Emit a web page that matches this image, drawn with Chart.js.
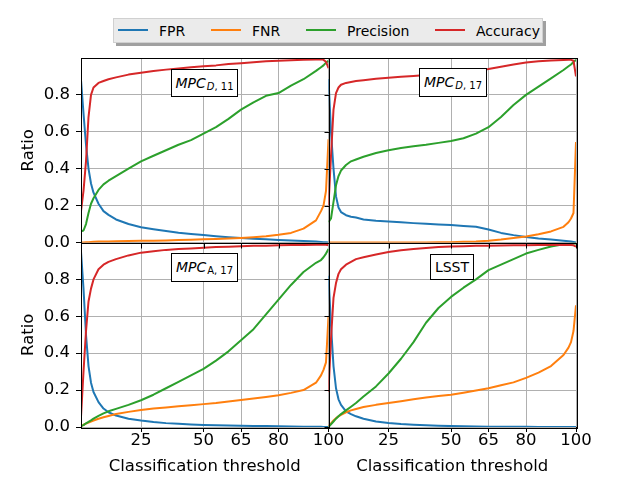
<!DOCTYPE html>
<html>
<head>
<meta charset="utf-8">
<script src="https://cdn.jsdelivr.net/npm/chart.js@4.4.1/dist/chart.umd.min.js"></script>
<style>
  body { margin: 0; background: #fff; font-family: 'DejaVu Sans', sans-serif; }
  #wrap { position: relative; width: 640px; height: 480px; overflow: hidden; }
  #chart { position: absolute; left: 0; top: 0; }
  .legend-shadow { position: absolute; left: 116px; top: 21px; width: 430px; height: 25px; background: #a0a0a0; }
  .legend { position: absolute; left: 113px; top: 18px; width: 430px; height: 25px; box-sizing: border-box;
            background: #ebebeb; border: 1px solid #d0d0d0; }
  .legend .swatch { position: absolute; top: 10px; width: 30px; height: 2px; }
  .legend .lab { position: absolute; top: 4px; font-size: 14px; line-height: 16px; color: #000; white-space: nowrap; }
  .tag { position: absolute; box-sizing: border-box; border: 1px solid #000; background: #fff; color: #000;
         display: flex; align-items: center; justify-content: center; font-size: 14px; white-space: nowrap; }
  .tag .sub { font-size: 10px; vertical-align: -2px; margin-left: 1px; }
</style>
</head>
<body>
<div id="wrap">
  <canvas id="chart" width="640" height="480"></canvas>
  <div class="legend-shadow"></div>
  <div class="legend" id="legend"></div>
  <div class="tag" style="left:171px;top:69px;width:67px;height:28px;"><span><i>MPC</i><span class="sub"><i>D</i>, 11</span></span></div>
  <div class="tag" style="left:419px;top:68px;width:68px;height:29px;"><span><i>MPC</i><span class="sub"><i>D</i>, 17</span></span></div>
  <div class="tag" style="left:171px;top:253px;width:67px;height:29px;"><span><i>MPC</i><span class="sub">A, 17</span></span></div>
  <div class="tag" style="left:430px;top:254px;width:44px;height:26px;">LSST</div>
</div>
<script>
// x values (classification threshold) shared by all four panels
const thresholds = [1, 2, 3, 4, 5, 6, 8, 10, 12, 15, 20, 25, 30, 35, 40, 45, 50, 55, 60, 65, 70, 75, 80, 85, 90, 95, 97, 98, 99, 100];
const xTicks = [25, 50, 65, 80, 100];
const yTicks = [0, 0.2, 0.4, 0.6, 0.8];
const seriesNames = ['FPR', 'FNR', 'Precision', 'Accuracy'];
const seriesColors = ['#1f77b4', '#ff7f0e', '#2ca02c', '#d62728'];

// MPC D,11 (top left)
const fprD11 = [0.88, 0.70, 0.53, 0.40, 0.32, 0.27, 0.21, 0.17, 0.15, 0.125, 0.10, 0.083, 0.072, 0.062, 0.053, 0.046, 0.040, 0.034, 0.029, 0.024, 0.020, 0.017, 0.014, 0.011, 0.008, 0.005, 0.003, 0.002, 0.001, 0.0];
const fnrD11 = [0, 0, 0.001, 0.002, 0.003, 0.004, 0.005, 0.006, 0.006, 0.007, 0.008, 0.009, 0.010, 0.011, 0.013, 0.015, 0.017, 0.019, 0.022, 0.025, 0.029, 0.034, 0.042, 0.052, 0.075, 0.12, 0.17, 0.20, 0.28, 0.56];
const precD11 = [0.06, 0.065, 0.10, 0.16, 0.21, 0.24, 0.285, 0.315, 0.335, 0.36, 0.40, 0.44, 0.47, 0.50, 0.53, 0.555, 0.59, 0.625, 0.67, 0.72, 0.76, 0.795, 0.81, 0.85, 0.885, 0.93, 0.95, 0.96, 0.975, 0.985];
const accD11 = [0.17, 0.28, 0.44, 0.68, 0.80, 0.84, 0.865, 0.875, 0.885, 0.895, 0.91, 0.92, 0.93, 0.937, 0.943, 0.95, 0.955, 0.96, 0.967, 0.972, 0.977, 0.982, 0.985, 0.988, 0.99, 0.992, 0.993, 0.99, 0.98, 0.945];

// MPC D,17 (top right)
const fprD17 = [0.886, 0.60, 0.40, 0.25, 0.19, 0.165, 0.148, 0.14, 0.135, 0.125, 0.118, 0.114, 0.11, 0.105, 0.101, 0.098, 0.095, 0.09, 0.085, 0.07, 0.052, 0.04, 0.03, 0.022, 0.016, 0.01, 0.007, 0.005, 0.003, 0.0];
const fnrD17 = [0, 0, 0, 0, 0, 0, 0, 0, 0, 0, 0, 0, 0, 0, 0, 0.001, 0.002, 0.004, 0.006, 0.01, 0.016, 0.024, 0.033, 0.045, 0.06, 0.085, 0.11, 0.13, 0.16, 0.545];
const precD17 = [0.11, 0.13, 0.22, 0.31, 0.36, 0.39, 0.42, 0.44, 0.45, 0.465, 0.485, 0.50, 0.512, 0.522, 0.53, 0.54, 0.55, 0.565, 0.59, 0.625, 0.68, 0.745, 0.80, 0.845, 0.89, 0.935, 0.955, 0.965, 0.978, 0.99];
const accD17 = [0.2, 0.47, 0.72, 0.81, 0.84, 0.855, 0.865, 0.87, 0.875, 0.88, 0.888, 0.893, 0.898, 0.903, 0.908, 0.912, 0.916, 0.922, 0.93, 0.94, 0.952, 0.965, 0.975, 0.982, 0.986, 0.989, 0.99, 0.99, 0.985, 0.9];

// MPC A,17 (bottom left)
const fprA17 = [0.95, 0.75, 0.50, 0.33, 0.24, 0.19, 0.135, 0.10, 0.08, 0.062, 0.045, 0.035, 0.027, 0.021, 0.017, 0.014, 0.011, 0.009, 0.008, 0.007, 0.006, 0.005, 0.004, 0.003, 0.002, 0.001, 0.001, 0, 0, 0];
const fnrA17 = [0.005, 0.012, 0.018, 0.024, 0.03, 0.035, 0.045, 0.053, 0.06, 0.07, 0.082, 0.092, 0.10, 0.106, 0.112, 0.118, 0.124, 0.13, 0.138, 0.146, 0.155, 0.163, 0.172, 0.185, 0.20, 0.24, 0.28, 0.31, 0.35, 0.6];
const precA17 = [0.005, 0.01, 0.02, 0.028, 0.036, 0.045, 0.06, 0.074, 0.085, 0.098, 0.12, 0.145, 0.175, 0.21, 0.245, 0.28, 0.315, 0.36, 0.41, 0.47, 0.53, 0.61, 0.69, 0.77, 0.84, 0.89, 0.905, 0.92, 0.94, 0.965];
const accA17 = [0.056, 0.30, 0.52, 0.68, 0.75, 0.80, 0.855, 0.88, 0.895, 0.91, 0.93, 0.945, 0.953, 0.96, 0.965, 0.968, 0.972, 0.975, 0.977, 0.98, 0.982, 0.983, 0.985, 0.986, 0.987, 0.988, 0.988, 0.988, 0.988, 0.985];

// LSST (bottom right)
const fprLSST = [0.82, 0.55, 0.33, 0.21, 0.15, 0.12, 0.085, 0.07, 0.058, 0.045, 0.03, 0.022, 0.016, 0.012, 0.009, 0.007, 0.005, 0.004, 0.003, 0.002, 0.002, 0.001, 0.001, 0, 0, 0, 0, 0, 0, 0];
const fnrLSST = [0.005, 0.02, 0.035, 0.048, 0.058, 0.066, 0.08, 0.09, 0.098, 0.108, 0.12, 0.13, 0.14, 0.15, 0.16, 0.168, 0.175, 0.186, 0.198, 0.21, 0.226, 0.242, 0.266, 0.295, 0.33, 0.39, 0.43, 0.46, 0.52, 0.66];
const precLSST = [0, 0.015, 0.03, 0.045, 0.058, 0.07, 0.09, 0.11, 0.13, 0.165, 0.22, 0.29, 0.37, 0.46, 0.565, 0.645, 0.705, 0.755, 0.80, 0.85, 0.88, 0.91, 0.94, 0.96, 0.978, 0.99, 0.992, 0.993, 0.994, 0.995];
const accLSST = [0.19, 0.48, 0.70, 0.78, 0.83, 0.855, 0.88, 0.895, 0.91, 0.92, 0.935, 0.948, 0.958, 0.965, 0.97, 0.975, 0.978, 0.98, 0.982, 0.983, 0.984, 0.985, 0.985, 0.986, 0.986, 0.986, 0.986, 0.986, 0.985, 0.978];

const panels = [
    { x: 'xL', y: 'yT', series: [fprD11, fnrD11, precD11, accD11] },
    { x: 'xR', y: 'yT', series: [fprD17, fnrD17, precD17, accD17] },
    { x: 'xL', y: 'yB', series: [fprA17, fnrA17, precA17, accA17] },
    { x: 'xR', y: 'yB', series: [fprLSST, fnrLSST, precLSST, accLSST] }
];

Chart.defaults.font.family = "'DejaVu Sans', sans-serif";
Chart.defaults.color = '#000';

// legend built from the series arrays
const legendSwatchLeft = [4, 97, 192, 321];
const legendEl = document.getElementById('legend');
seriesNames.forEach((name, i) => {
    const sw = document.createElement('div');
    sw.className = 'swatch';
    sw.style.left = legendSwatchLeft[i] + 'px';
    sw.style.background = seriesColors[i];
    const lab = document.createElement('div');
    lab.className = 'lab';
    lab.style.left = (legendSwatchLeft[i] + 41) + 'px';
    lab.textContent = name;
    legendEl.appendChild(sw);
    legendEl.appendChild(lab);
});

const datasets = [];
panels.forEach(p => {
    p.series.forEach((vals, i) => {
        datasets.push({
            label: seriesNames[i],
            data: thresholds.map((t, k) => ({ x: t, y: vals[k] })),
            xAxisID: p.x,
            yAxisID: p.y,
            borderColor: seriesColors[i],
            backgroundColor: seriesColors[i],
            borderWidth: 2,
            borderJoinStyle: 'round',
            pointRadius: 0,
            tension: 0,
            fill: false,
            order: 3 - i
        });
    });
});

const gridStyle = { color: '#b0b0b0', lineWidth: 1, tickColor: '#000', tickLength: 5, tickWidth: 1 };

function xAxis() {
    return {
        type: 'linear', position: 'bottom', stack: 'cols', min: 1, max: 100,
        afterBuildTicks: s => { s.ticks = xTicks.map(v => ({ value: v })); },
        afterFit: s => { s.height = 53; },
        grid: gridStyle,
        border: { display: false },
        ticks: { autoSkip: false, maxRotation: 0, padding: 0, font: { size: 16.5, lineHeight: 1 }, callback: v => String(v) },
        title: { display: true, text: 'Classification threshold', font: { size: 16.5 }, padding: { top: 0, bottom: 3 } }
    };
}

function yAxis(weight) {
    return {
        type: 'linear', position: 'left', stack: 'rows', weight: weight, min: 0, max: 1,
        afterBuildTicks: s => { s.ticks = yTicks.map(v => ({ value: v })); },
        afterFit: s => { s.width = 81; },
        grid: gridStyle,
        border: { display: false },
        ticks: { padding: 6, font: { size: 16.5 }, callback: v => v.toFixed(1) },
        title: { display: true, text: 'Ratio', font: { size: 16.5 }, padding: { top: 19, bottom: 0 } }
    };
}

// black frame around every panel (drawn over the lines like matplotlib spines),
// plus the unlabelled ticks of the shared axes
const panelFrames = {
    id: 'panelFrames',
    afterDatasetsDraw(chart) {
        const { ctx, scales } = chart;
        ctx.save();
        ctx.strokeStyle = '#000';
        ctx.lineWidth = 1;
        panels.forEach(p => {
            const xs = scales[p.x], ys = scales[p.y];
            ctx.strokeRect(Math.round(xs.left) + 0.5, Math.round(ys.top) + 0.5,
                Math.round(xs.right - xs.left), Math.round(ys.bottom - ys.top));
        });
        ctx.beginPath();
        // y ticks of the right-hand column
        ['yT', 'yB'].forEach(id => {
            const ys = scales[id], left = Math.round(scales.xR.left) + 0.5;
            yTicks.forEach(v => {
                const py = Math.round(ys.getPixelForValue(v)) + 0.5;
                ctx.moveTo(left - 5, py);
                ctx.lineTo(left, py);
            });
        });
        // x ticks under the top row
        ['xL', 'xR'].forEach(id => {
            const xs = scales[id], bottom = Math.round(scales.yT.bottom) + 0.5;
            xTicks.forEach(v => {
                const px = Math.round(xs.getPixelForValue(v)) + 0.5;
                ctx.moveTo(px, bottom);
                ctx.lineTo(px, bottom + 5);
            });
        });
        ctx.stroke();
        ctx.restore();
    }
};

new Chart(document.getElementById('chart').getContext('2d'), {
    type: 'line',
    data: { datasets: datasets },
    options: {
        responsive: false,
        animation: false,
        layout: { padding: { top: 58, right: 64, left: 0, bottom: 0 } },
        plugins: { legend: { display: false }, tooltip: { enabled: false } },
        scales: {
            xL: xAxis(),
            xR: xAxis(),
            yT: yAxis(1),
            yB: yAxis(0)
        }
    },
    plugins: [panelFrames]
});
</script>
</body>
</html>
